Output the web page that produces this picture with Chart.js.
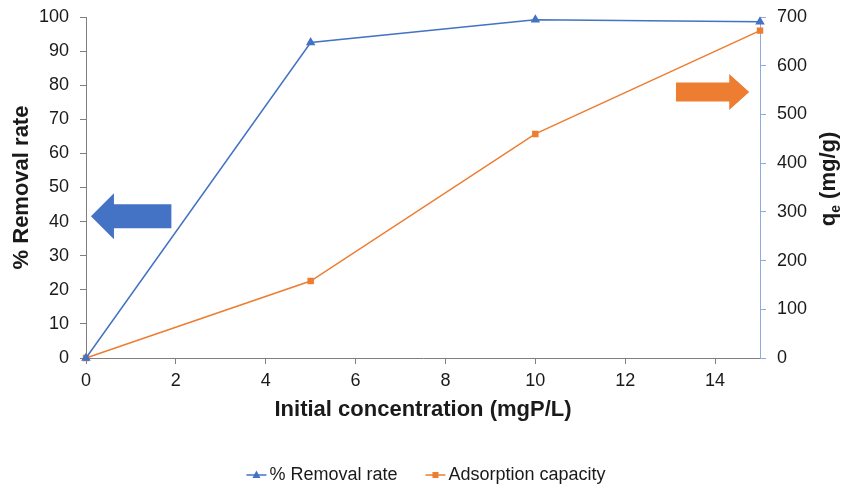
<!DOCTYPE html>
<html><head><meta charset="utf-8">
<script src="https://cdn.jsdelivr.net/npm/chart.js@4"></script>
<style>html,body{margin:0;padding:0;background:#fff}#wrap{width:844px;height:490px}</style>
</head><body><div id="wrap"><canvas id="c" width="844" height="490"></canvas></div>
<script>
const concentrations = [0, 5, 10, 15];
const removalRate = [0, 92.5, 99.2, 98.6];
const adsorptionCapacity = [0, 158, 460, 672];
const seriesNames = ['% Removal rate', 'Adsorption capacity'];
const xTitle = 'Initial concentration (mgP/L)';
const leftTitle = '% Removal rate';

const BLUE = '#4472C4', ORANGE = '#ED7D31', TXT = '#1a1a1a', FONT = "'Liberation Sans', Arial, sans-serif";
const AXIS = '#7F7F7F';

const decor = {
  id: 'decor',
  afterDraw(chart) {
    const ctx = chart.ctx, x = chart.scales.x, yL = chart.scales.y, yR = chart.scales.y1;
    function arrow(x0, x1, yc, shaftH, headH, headL, color) {
      const dir = Math.sign(x1 - x0);
      const hb = x1 - dir * headL;
      ctx.save(); ctx.fillStyle = color; ctx.beginPath();
      ctx.moveTo(x0, yc - shaftH / 2); ctx.lineTo(hb, yc - shaftH / 2); ctx.lineTo(hb, yc - headH / 2);
      ctx.lineTo(x1, yc); ctx.lineTo(hb, yc + headH / 2); ctx.lineTo(hb, yc + shaftH / 2);
      ctx.lineTo(x0, yc + shaftH / 2); ctx.closePath(); ctx.fill(); ctx.restore();
    }
    arrow(x.getPixelForValue(1.9), x.getPixelForValue(0.11), yL.getPixelForValue(41.6), 24, 46, 23, BLUE);
    arrow(x.getPixelForValue(13.13), x.getPixelForValue(14.76), yR.getPixelForValue(546), 19, 36, 20, ORANGE);

    // right axis title q_e (mg/g), reading bottom-to-top
    ctx.save();
    ctx.translate(829, 179);
    ctx.rotate(-Math.PI / 2);
    ctx.fillStyle = TXT; ctx.textBaseline = 'middle'; ctx.textAlign = 'left';
    const big = 'bold 22px ' + FONT, small = 'bold 14px ' + FONT;
    ctx.font = big; const wq = ctx.measureText('q').width; const wr = ctx.measureText(' (mg/g)').width;
    ctx.font = small; const we = ctx.measureText('e').width;
    let sx = -(wq + we + wr) / 2;
    ctx.font = big; ctx.fillText('q', sx, 0); sx += wq;
    ctx.font = small; ctx.fillText('e', sx, 7); sx += we;
    ctx.font = big; ctx.fillText(' (mg/g)', sx, 0);
    ctx.restore();

    // legend (line + marker icons, as in the original)
    ctx.save();
    ctx.font = '18px ' + FONT; ctx.textBaseline = 'middle'; ctx.textAlign = 'left';
    const ds = chart.data.datasets;
    const iconW = 20, gapT = 3, gapItem = 28;
    const widths = ds.map(d => ctx.measureText(d.label).width);
    const total = ds.length * (iconW + gapT) + widths.reduce((a, b) => a + b, 0) + gapItem * (ds.length - 1);
    let lx = 426 - total / 2;
    const ly = 475;
    ds.forEach((d, i) => {
      ctx.strokeStyle = d.borderColor; ctx.lineWidth = 1.5;
      ctx.beginPath(); ctx.moveTo(lx, ly); ctx.lineTo(lx + iconW, ly); ctx.stroke();
      ctx.fillStyle = d.borderColor;
      const cx = lx + iconW / 2;
      if (d.pointStyle === 'triangle') {
        ctx.beginPath(); ctx.moveTo(cx, ly - 4.5); ctx.lineTo(cx + 4, ly + 3); ctx.lineTo(cx - 4, ly + 3); ctx.closePath(); ctx.fill();
      } else {
        ctx.fillRect(cx - 3, ly - 3, 6, 6);
      }
      lx += iconW + gapT;
      ctx.fillStyle = TXT; ctx.fillText(d.label, lx, ly);
      lx += widths[i] + gapItem;
    });
    ctx.restore();
  }
};

function fitY(w) { return (s) => { s.width = w; s.paddingTop = 0; s.paddingBottom = 0; }; }

new Chart(document.getElementById('c'), {
  type: 'line',
  data: {
    datasets: [
      { label: seriesNames[0], data: concentrations.map((c, i) => ({x: c, y: removalRate[i]})), yAxisID: 'y',
        borderColor: BLUE, backgroundColor: BLUE, borderWidth: 1.5, pointStyle: 'triangle', pointRadius: 4, pointHoverRadius: 4, clip: false },
      { label: seriesNames[1], data: concentrations.map((c, i) => ({x: c, y: adsorptionCapacity[i]})), yAxisID: 'y1',
        borderColor: ORANGE, backgroundColor: ORANGE, borderWidth: 1.5, pointStyle: 'rect', pointRadius: 3.5, pointHoverRadius: 3.5, clip: false }
    ]
  },
  options: {
    responsive: false, animation: false, devicePixelRatio: 1,
    layout: { padding: { top: 17, left: 0, right: 0, bottom: 0 } },
    plugins: { tooltip: { enabled: false }, legend: { display: false } },
    scales: {
      x: {
        type: 'linear', min: 0, max: 15,
        ticks: { stepSize: 2, font: { family: FONT, size: 18 }, color: TXT, padding: 6,
          callback: (v) => (v % 2 === 0 ? v : null) },
        grid: { drawOnChartArea: false, color: AXIS, tickLength: 6 },
        border: { color: AXIS, width: 1 },
        title: { display: true, text: xTitle, font: { family: FONT, size: 22, weight: 'bold' }, color: TXT, padding: { top: 0, bottom: 67 } },
        afterFit(s) { s.height = 132; s.paddingLeft = 0; s.paddingRight = 0; }
      },
      y: {
        position: 'left', min: 0, max: 100,
        ticks: { stepSize: 10, font: { family: FONT, size: 18 }, color: TXT, padding: 11 },
        grid: { drawOnChartArea: false, color: AXIS, tickLength: 6 },
        border: { color: AXIS, width: 1 },
        title: { display: true, text: leftTitle, font: { family: FONT, size: 22, weight: 'bold' }, color: TXT, padding: { top: 9, bottom: 0 } },
        afterFit: fitY(86)
      },
      y1: {
        position: 'right', min: 0, max: 700,
        ticks: { stepSize: 100, font: { family: FONT, size: 18 }, color: TXT, padding: 11 },
        grid: { drawOnChartArea: false, color: '#8FAADC', tickLength: 6 },
        border: { color: '#8FAADC', width: 1 },
        afterFit: fitY(84)
      }
    }
  },
  plugins: [decor]
});
</script></body></html>
